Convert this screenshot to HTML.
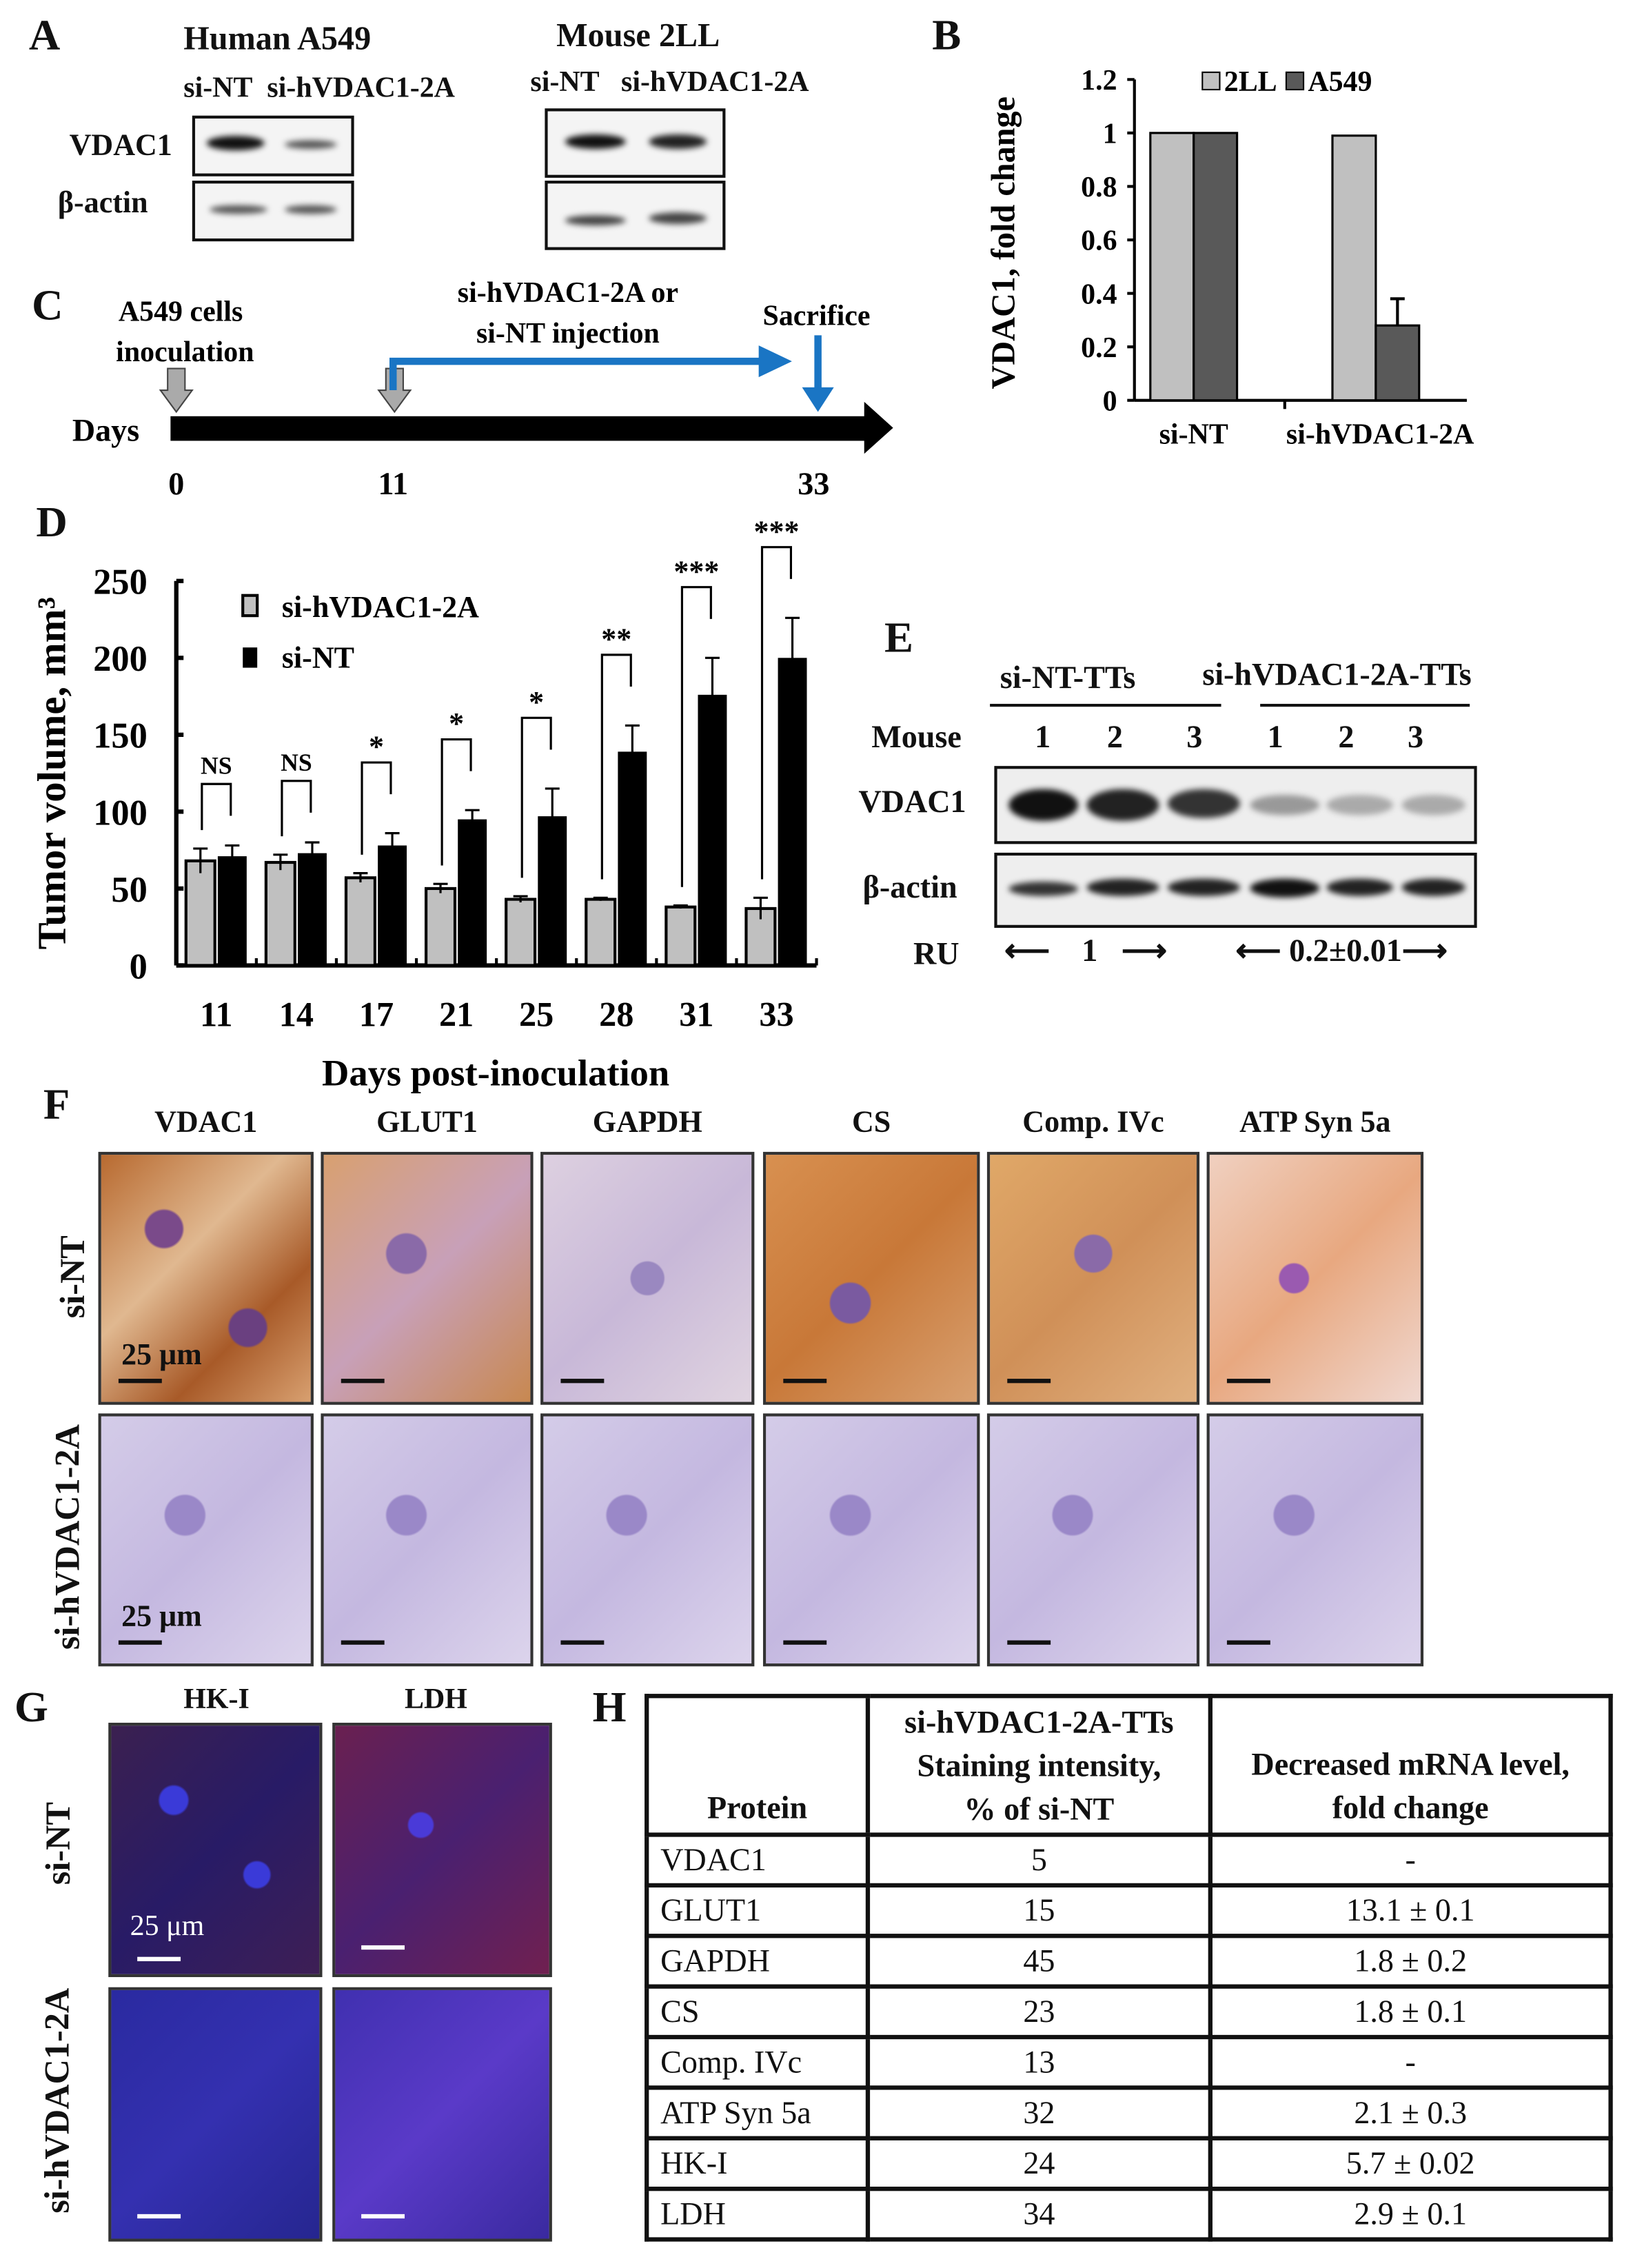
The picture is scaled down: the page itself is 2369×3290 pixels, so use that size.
<!DOCTYPE html>
<html><head><meta charset="utf-8"><style>
html,body{margin:0;padding:0;background:#fff}
#page{width:1130px;height:1569px;position:relative;transform:scale(2.0965);transform-origin:0 0;font-family:"Liberation Serif",serif;font-weight:bold;color:#111}
.t{position:absolute;white-space:nowrap}
.lbl{position:absolute;font-size:30px;font-weight:bold}
.box{position:absolute;border:2px solid #111;background:#f4f4f4}
.band{position:absolute;border-radius:50%;filter:blur(2px)}
.img{position:absolute;border:2px solid #333;overflow:hidden}
.sb{position:absolute;height:3px;width:30px;background:#111}
table{border-collapse:collapse;font-weight:normal}
td{border:3px solid #111;text-align:center;font-size:22px;padding:0}
</style></head><body>
<div id="page">

<!-- Panel A -->
<div class="lbl" style="left:20px;top:8px">A</div>
<div class="t" style="left:127px;top:14px;font-size:23px">Human A549</div>
<div class="t" style="left:127px;top:50px;font-size:20px">si-NT&nbsp; si-hVDAC1-2A</div>
<div class="t" style="left:48px;top:88px;font-size:21px">VDAC1</div>
<div class="t" style="left:40px;top:128px;font-size:21px">β-actin</div>
<div class="box" style="left:133px;top:80px;width:108px;height:38px">
 <div class="band" style="left:8px;top:12px;width:40px;height:10px;background:#111"></div>
 <div class="band" style="left:62px;top:15px;width:36px;height:6px;background:#555"></div></div>
<div class="box" style="left:133px;top:125px;width:108px;height:38px">
 <div class="band" style="left:10px;top:15px;width:40px;height:6px;background:#555"></div>
 <div class="band" style="left:62px;top:15px;width:36px;height:6px;background:#555"></div></div>
<div class="t" style="left:385px;top:12px;font-size:23px">Mouse 2LL</div>
<div class="t" style="left:367px;top:46px;font-size:20px">si-NT&nbsp;&nbsp; si-hVDAC1-2A</div>
<div class="box" style="left:377px;top:75px;width:121px;height:44px">
 <div class="band" style="left:12px;top:16px;width:42px;height:10px;background:#111"></div>
 <div class="band" style="left:70px;top:16px;width:40px;height:10px;background:#222"></div></div>
<div class="box" style="left:377px;top:125px;width:121px;height:44px">
 <div class="band" style="left:12px;top:22px;width:42px;height:7px;background:#444"></div>
 <div class="band" style="left:70px;top:20px;width:40px;height:8px;background:#444"></div></div>

<!-- Panel B -->
<div class="lbl" style="left:645px;top:8px">B</div>
<svg style="position:absolute;left:640px;top:30px" width="420" height="300" id="chartB"></svg>

<!-- Panel C -->
<div class="lbl" style="left:22px;top:195px">C</div>
<svg style="position:absolute;left:0;top:190px" width="640" height="170">
 <text x="125" y="32" font-size="20" text-anchor="middle" font-family="Liberation Serif" font-weight="bold">A549 cells</text>
 <text x="128" y="60" font-size="20" text-anchor="middle" font-family="Liberation Serif" font-weight="bold">inoculation</text>
 <text x="393" y="19" font-size="20" text-anchor="middle" font-family="Liberation Serif" font-weight="bold">si-hVDAC1-2A or</text>
 <text x="393" y="47" font-size="20" text-anchor="middle" font-family="Liberation Serif" font-weight="bold">si-NT injection</text>
 <text x="565" y="35" font-size="20" text-anchor="middle" font-family="Liberation Serif" font-weight="bold">Sacrifice</text>
 <text x="50" y="115" font-size="22" font-family="Liberation Serif" font-weight="bold">Days</text>
 <rect x="118" y="98" width="482" height="17" fill="#000"/>
 <polygon points="598,88 618,106 598,124" fill="#000"/>
 <polygon points="116,65 128,65 128,80 133,80 122,95 111,80 116,80" fill="#aaa" stroke="#444"/>
 <polygon points="267,65 279,65 279,80 284,80 273,95 262,80 267,80" fill="#aaa" stroke="#444"/>
 <polyline points="272,80 272,60 530,60" fill="none" stroke="#1a75c4" stroke-width="5"/>
 <polygon points="525,49 548,60 525,71" fill="#1a75c4"/>
 <line x1="566" y1="42" x2="566" y2="82" stroke="#1a75c4" stroke-width="5"/>
 <polygon points="555,78 566,95 577,78" fill="#1a75c4"/>
 <text x="122" y="152" font-size="22" text-anchor="middle" font-family="Liberation Serif" font-weight="bold">0</text>
 <text x="272" y="152" font-size="22" text-anchor="middle" font-family="Liberation Serif" font-weight="bold">11</text>
 <text x="563" y="152" font-size="22" text-anchor="middle" font-family="Liberation Serif" font-weight="bold">33</text>
</svg>

<!-- Panel D -->
<div class="lbl" style="left:25px;top:345px">D</div>
<svg style="position:absolute;left:0;top:355px" width="600" height="410" id="chartD"></svg>

<!-- Panel E -->
<div class="lbl" style="left:612px;top:425px">E</div>
<div class="t" style="left:692px;top:456px;font-size:22px">si-NT-TTs</div>
<div class="t" style="left:832px;top:454px;font-size:22px">si-hVDAC1-2A-TTs</div>
<div style="position:absolute;left:685px;top:487px;width:160px;height:2px;background:#111"></div>
<div style="position:absolute;left:872px;top:487px;width:145px;height:2px;background:#111"></div>
<div class="t" style="left:603px;top:497px;font-size:22px">Mouse</div>
<div class="t" style="left:716px;top:497px;font-size:22px">1</div>
<div class="t" style="left:766px;top:497px;font-size:22px">2</div>
<div class="t" style="left:821px;top:497px;font-size:22px">3</div>
<div class="t" style="left:877px;top:497px;font-size:22px">1</div>
<div class="t" style="left:926px;top:497px;font-size:22px">2</div>
<div class="t" style="left:974px;top:497px;font-size:22px">3</div>
<div class="t" style="left:594px;top:542px;font-size:22px">VDAC1</div>
<div class="t" style="left:597px;top:601px;font-size:22px">β-actin</div>
<div class="box" style="left:688px;top:530px;width:330px;height:50px;background:#eee">
 <div class="band" style="left:8px;top:14px;width:48px;height:22px;background:#111"></div>
 <div class="band" style="left:62px;top:14px;width:50px;height:22px;background:#222"></div>
 <div class="band" style="left:118px;top:14px;width:50px;height:20px;background:#333"></div>
 <div class="band" style="left:175px;top:18px;width:48px;height:14px;background:#999"></div>
 <div class="band" style="left:228px;top:18px;width:46px;height:14px;background:#aaa"></div>
 <div class="band" style="left:280px;top:18px;width:44px;height:14px;background:#aaa"></div></div>
<div class="box" style="left:688px;top:590px;width:330px;height:48px;background:#eee">
 <div class="band" style="left:8px;top:18px;width:48px;height:10px;background:#333"></div>
 <div class="band" style="left:62px;top:16px;width:50px;height:12px;background:#222"></div>
 <div class="band" style="left:118px;top:16px;width:50px;height:12px;background:#222"></div>
 <div class="band" style="left:175px;top:16px;width:48px;height:13px;background:#111"></div>
 <div class="band" style="left:228px;top:16px;width:46px;height:12px;background:#222"></div>
 <div class="band" style="left:280px;top:16px;width:44px;height:12px;background:#222"></div></div>
<div class="t" style="left:632px;top:647px;font-size:22px">RU</div>
<div class="t" style="left:695px;top:645px;font-size:22px">⟵&nbsp;&nbsp;&nbsp; 1 &nbsp;&nbsp;⟶</div>
<div class="t" style="left:855px;top:645px;font-size:22px">⟵ 0.2±0.01⟶</div>

<!-- Panel F -->
<div class="lbl" style="left:30px;top:748px">F</div>
<div id="fgrid"></div>
<div class="t" style="left:23px;top:870px;font-size:24px;transform:rotate(-90deg);transform-origin:center">si-NT</div>
<div class="t" style="left:-30px;top:1050px;font-size:24px;transform:rotate(-90deg);transform-origin:center">si-hVDAC1-2A</div>

<!-- Panel G -->
<div class="lbl" style="left:10px;top:1165px">G</div>
<div class="t" style="left:127px;top:1165px;font-size:20px">HK-I</div>
<div class="t" style="left:280px;top:1165px;font-size:20px">LDH</div>
<div class="img" style="left:75px;top:1192px;width:144px;height:172px;background:radial-gradient(circle at 30% 30%,#3a3ad8 0 6%,transparent 7%),radial-gradient(circle at 70% 60%,#3a3ad8 0 6%,transparent 7%),linear-gradient(135deg,#3b2050,#281b66 50%,#3e1f55)"><div class="sb" style="left:18px;top:160px;background:#fff"></div></div>
<div class="t" style="left:90px;top:1322px;font-size:20px;color:#fff;font-weight:normal">25 μm</div>
<div class="img" style="left:230px;top:1192px;width:148px;height:172px;background:radial-gradient(circle at 40% 40%,#4a3ad8 0 6%,transparent 7%),linear-gradient(135deg,#6a2050,#4a2070 50%,#702050)"><div class="sb" style="left:18px;top:152px;background:#fff"></div></div>
<div class="img" style="left:75px;top:1375px;width:144px;height:172px;background:linear-gradient(135deg,#2a2aa0,#3430b0 50%,#262690)"><div class="sb" style="left:18px;top:155px;background:#fff"></div></div>
<div class="img" style="left:230px;top:1375px;width:148px;height:172px;background:linear-gradient(135deg,#4030b0,#5a3ac8 50%,#3a2aa0)"><div class="sb" style="left:18px;top:155px;background:#fff"></div></div>
<div class="t" style="left:13px;top:1262px;font-size:24px;transform:rotate(-90deg);transform-origin:center">si-NT</div>
<div class="t" style="left:-37px;top:1440px;font-size:24px;transform:rotate(-90deg);transform-origin:center">si-hVDAC1-2A</div>

<!-- Panel H -->
<div class="lbl" style="left:410px;top:1165px">H</div>
<table style="position:absolute;left:446px;top:1172px;width:670px;font-family:'Liberation Serif',serif">
<tr style="height:96px;font-weight:bold"><td style="width:150px;vertical-align:bottom;font-weight:bold;padding-bottom:4px;border-right:2px solid #111">Protein</td><td style="width:234px;font-weight:bold;line-height:30px">si-hVDAC1-2A-TTs<br>Staining intensity,<br>% of si-NT</td><td style="font-weight:bold;vertical-align:bottom;line-height:30px;padding-bottom:2px">Decreased mRNA level,<br>fold change</td></tr>
<tr style="height:35px"><td style="text-align:left;padding-left:8px">VDAC1</td><td>5</td><td>-</td></tr>
<tr style="height:35px"><td style="text-align:left;padding-left:8px">GLUT1</td><td>15</td><td>13.1 ± 0.1</td></tr>
<tr style="height:35px"><td style="text-align:left;padding-left:8px">GAPDH</td><td>45</td><td>1.8 ± 0.2</td></tr>
<tr style="height:35px"><td style="text-align:left;padding-left:8px">CS</td><td>23</td><td>1.8 ± 0.1</td></tr>
<tr style="height:35px"><td style="text-align:left;padding-left:8px">Comp. IVc</td><td>13</td><td>-</td></tr>
<tr style="height:35px"><td style="text-align:left;padding-left:8px">ATP Syn 5a</td><td>32</td><td>2.1 ± 0.3</td></tr>
<tr style="height:35px"><td style="text-align:left;padding-left:8px">HK-I</td><td>24</td><td>5.7 ± 0.02</td></tr>
<tr style="height:35px"><td style="text-align:left;padding-left:8px">LDH</td><td>34</td><td>2.9 ± 0.1</td></tr>
</table>
</div>

<script>
// ===== Chart B data =====
const bCats = ["si-NT", "si-hVDAC1-2A"];
const b2LL = [1.0, 0.99];
const bA549 = [1.0, 0.28];
const bA549Err = [0, 0.10];
const bTicks = [0, 0.2, 0.4, 0.6, 0.8, 1, 1.2];

// ===== Chart D data =====
const dDays = ["11","14","17","21","25","28","31","33"];
const dSiH = [68, 67, 57, 50, 43, 43, 38, 37];
const dSiHErr = [8, 5, 3, 3, 2, 1, 1, 7];
const dSiNT = [71, 73, 78, 95, 97, 139, 176, 200];
const dSiNTErr = [7, 7, 8, 6, 18, 17, 24, 26];
const dSig = ["NS","NS","*","*","*","**","***","***"];
const dTicks = [0, 50, 100, 150, 200, 250];

const NS = "http://www.w3.org/2000/svg";
function mk(svg, tag, attrs, text){const e=document.createElementNS(NS,tag);for(const k in attrs)e.setAttribute(k,attrs[k]);if(text!==undefined)e.textContent=text;svg.appendChild(e);return e;}
const FF = {"font-family":"Liberation Serif","font-weight":"bold"};

(function(){
 const svg=document.getElementById('chartB');
 const x0=145, y0=247, yTop=25, xEnd=375;
 const yS=v=>y0-(v/1.2)*(y0-yTop);
 mk(svg,'line',{x1:x0,y1:yTop,x2:x0,y2:y0,stroke:'#000','stroke-width':2});
 mk(svg,'line',{x1:x0,y1:y0,x2:xEnd,y2:y0,stroke:'#000','stroke-width':2});
 bTicks.forEach(t=>{
  const tk=mk(svg,'line',{x1:x0-5,y1:yS(t),x2:x0,y2:yS(t),stroke:'#000','stroke-width':2});
  
  const tl=mk(svg,'text',Object.assign({x:x0-12,y:yS(t)+7,'font-size':20,'text-anchor':'end'},FF),String(t));
  
 });
 const gw=126, bw=30;
 bCats.forEach((c,i)=>{
  const cx=x0+41+gw*i;
  const r1=mk(svg,'rect',{x:cx-bw,y:yS(b2LL[i]),width:bw,height:y0-yS(b2LL[i]),fill:'#c0c0c0',stroke:'#000','stroke-width':1.5});
  
  const r2=mk(svg,'rect',{x:cx,y:yS(bA549[i]),width:bw,height:y0-yS(bA549[i]),fill:'#595959',stroke:'#000','stroke-width':1.5});
  
  if(bA549Err[i]>0){const ey=yS(bA549[i]+bA549Err[i]);
   mk(svg,'line',{x1:cx+bw/2,y1:yS(bA549[i]),x2:cx+bw/2,y2:ey,stroke:'#000','stroke-width':2});
   mk(svg,'line',{x1:cx+bw/2-5,y1:ey,x2:cx+bw/2+5,y2:ey,stroke:'#000','stroke-width':2});}
  const cl=mk(svg,'text',Object.assign({x:cx+(i?3:0),y:y0+30,'font-size':20,'text-anchor':'middle'},FF),c);
  
 });
 mk(svg,'line',{x1:x0+104,y1:y0,x2:x0+104,y2:y0+6,stroke:'#000','stroke-width':2});
 const yt=mk(svg,'text',Object.assign({x:0,y:0,'font-size':23,'text-anchor':'middle',transform:'translate(62,138) rotate(-90)'},FF),'VDAC1, fold change');
 
 mk(svg,'rect',{x:192,y:20,width:12,height:12,fill:'#c0c0c0',stroke:'#000'});
 mk(svg,'text',Object.assign({x:207,y:33,'font-size':20},FF),'2LL');
 mk(svg,'rect',{x:250,y:20,width:12,height:12,fill:'#595959',stroke:'#000'});
 mk(svg,'text',Object.assign({x:265,y:33,'font-size':20},FF),'A549');
})();

(function(){
 const svg=document.getElementById('chartD');
 const x0=122, y0=313, yTop=47, xEnd=565;
 const yS=v=>y0-(v/250)*(y0-yTop);
 mk(svg,'line',{x1:x0,y1:yTop,x2:x0,y2:y0,stroke:'#000','stroke-width':3});
 mk(svg,'line',{x1:x0,y1:y0,x2:xEnd,y2:y0,stroke:'#000','stroke-width':3});
 dTicks.forEach(t=>{
  mk(svg,'line',{x1:x0,y1:yS(t),x2:x0+5,y2:yS(t),stroke:'#000','stroke-width':3});
  const tl=mk(svg,'text',Object.assign({x:x0-20,y:yS(t)+9,'font-size':25,'text-anchor':'end'},FF),String(t));
  
 });
 const gw=(xEnd-x0)/dDays.length, bw=20;
 dDays.forEach((d,i)=>{
  const cx=x0+gw*i+gw/2;
  mk(svg,'line',{x1:x0+gw*(i+1),y1:y0,x2:x0+gw*(i+1),y2:y0-5,stroke:'#000','stroke-width':2});
  const r1=mk(svg,'rect',{x:cx-bw-1,y:yS(dSiH[i]),width:bw,height:y0-yS(dSiH[i]),fill:'#c0c0c0',stroke:'#000','stroke-width':2});
  
  const r2=mk(svg,'rect',{x:cx+1,y:yS(dSiNT[i]),width:bw,height:y0-yS(dSiNT[i]),fill:'#000'});
  
  [[cx-bw/2-1,dSiH[i],dSiHErr[i]],[cx+bw/2+1,dSiNT[i],dSiNTErr[i]]].forEach(([ex,v,e])=>{
   mk(svg,'line',{x1:ex,y1:yS(v-e),x2:ex,y2:yS(v+e),stroke:'#000','stroke-width':1.5});
   mk(svg,'line',{x1:ex-5,y1:yS(v+e),x2:ex+5,y2:yS(v+e),stroke:'#000','stroke-width':1.5});
  });
  const top=Math.max(dSiNT[i]+dSiNTErr[i],dSiH[i]+dSiHErr[i])+(i<2?40:46);
  const by=yS(top);
  const bl=mk(svg,'polyline',{points:`${cx-bw/2},${yS(dSiH[i]+dSiHErr[i]+12)} ${cx-bw/2},${by} ${cx+bw/2},${by} ${cx+bw/2},${by+22}`,fill:'none',stroke:'#000','stroke-width':1.5});
  
  const st=mk(svg,'text',Object.assign({x:cx,y:by-(dSig[i]==='NS'?7:4),'font-size':dSig[i]==='NS'?17:21,'text-anchor':'middle'},FF),dSig[i]);
  
  const xl=mk(svg,'text',Object.assign({x:cx,y:y0+42,'font-size':24,'text-anchor':'middle'},FF),d);
  
 });
 const yt=mk(svg,'text',Object.assign({x:0,y:0,'font-size':28,'text-anchor':'middle',transform:'translate(45,180) rotate(-90)'},FF),'Tumor volume, mm³');
 
 const xt=mk(svg,'text',Object.assign({x:343,y:396,'font-size':26,'text-anchor':'middle'},FF),'Days post-inoculation');
 
 mk(svg,'rect',{x:168,y:57,width:10,height:14,fill:'#c0c0c0',stroke:'#000','stroke-width':2});
 mk(svg,'text',Object.assign({x:195,y:72,'font-size':21},FF),'si-hVDAC1-2A');
 mk(svg,'rect',{x:168,y:93,width:10,height:14,fill:'#000'});
 mk(svg,'text',Object.assign({x:195,y:107,'font-size':21},FF),'si-NT');
})();

(function(){
 const g=document.getElementById('fgrid');
 const heads=["VDAC1","GLUT1","GAPDH","CS","Comp. IVc","ATP Syn 5a"];
 const xs=[68,222,374,528,683,835], ws=[149,147,148,150,147,150];
 const top=["radial-gradient(circle at 30% 30%,#7a4a8a 0 8%,transparent 9%),radial-gradient(circle at 70% 70%,#6a4080 0 8%,transparent 9%),linear-gradient(135deg,#b86a30,#e0b890 40%,#a85a28 70%,#d8a070)",
 "radial-gradient(circle at 40% 40%,#8a6aa8 0 10%,transparent 11%),linear-gradient(135deg,#d8a070,#c8a0b8 50%,#c88850)",
 "radial-gradient(circle at 50% 50%,#9a88c0 0 10%,transparent 11%),linear-gradient(135deg,#ddd0e0,#c8b8d8 50%,#e0d4e0)",
 "radial-gradient(circle at 40% 60%,#7a5aa0 0 10%,transparent 11%),linear-gradient(135deg,#d89050,#c87838 50%,#d8a070)",
 "radial-gradient(circle at 50% 40%,#8a6aa8 0 10%,transparent 11%),linear-gradient(135deg,#e0a868,#d09058 50%,#e0b080)",
 "radial-gradient(circle at 40% 50%,#9a5ab0 0 8%,transparent 9%),linear-gradient(135deg,#f0d0c0,#e8a880 50%,#f0d8d0)"];
 const bot="radial-gradient(circle at 40% 40%,#9a88c8 0 10%,transparent 11%),linear-gradient(135deg,#d4cce8,#c4b8e0 50%,#dcd4ec)";
 heads.forEach((h,i)=>{
  const t=document.createElement('div');t.className='t';
  t.style.cssText=`left:${xs[i]}px;top:764px;width:${ws[i]}px;text-align:center;font-size:21px`;
  t.textContent=h;
  
  
  g.appendChild(t);
  [[797,top[i]],[978,bot]].forEach(([y,bg],r)=>{
   const d=document.createElement('div');d.className='img';
   d.style.cssText=`left:${xs[i]}px;top:${y}px;width:${ws[i]-4}px;height:171px;background:${bg}`;
   
   
   const s=document.createElement('div');s.className='sb';s.style.left='12px';s.style.top='155px';d.appendChild(s);
   if(i===0){const l=document.createElement('div');l.className='t';l.style.cssText='left:14px;top:126px;font-size:21px';l.textContent='25 μm';d.appendChild(l);}
   g.appendChild(d);
  });
 });
})();
</script>
</body></html>
